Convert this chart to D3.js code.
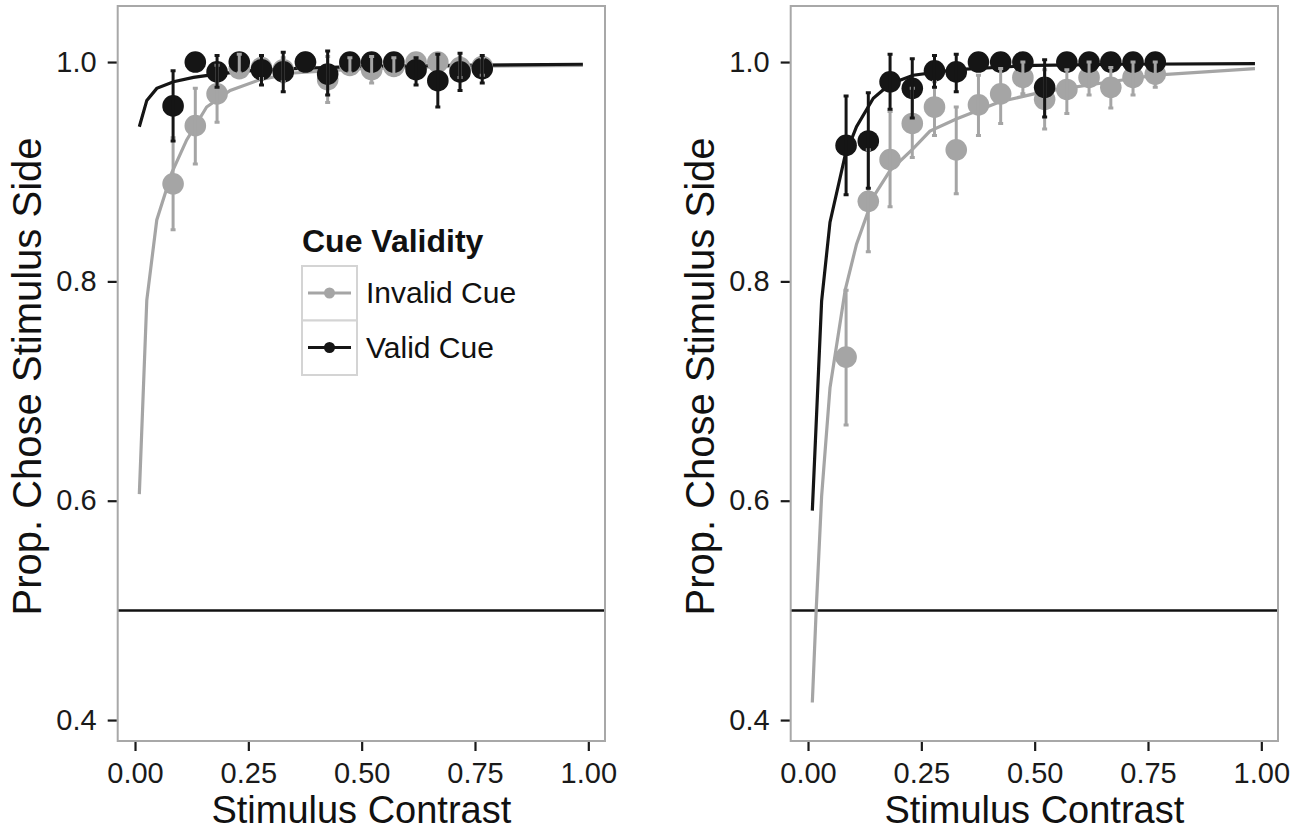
<!DOCTYPE html>
<html>
<head>
<meta charset="utf-8">
<script src="https://cdn.jsdelivr.net/npm/d3@7"></script>
<style>
  body { margin: 0; background: #fff; }
  text { font-family: "Liberation Sans", Arial, sans-serif; }
</style>
</head>
<body>
<div id="chart"></div>
<script>
// contrast levels where the points sit
const contrasts = [0.084, 0.133, 0.181, 0.230, 0.279, 0.327, 0.376, 0.425, 0.474, 0.522, 0.571, 0.620, 0.668, 0.717, 0.766];

// left panel
const leftInvalid   = [0.889, 0.942, 0.971, 0.994, 0.995, 0.993, 1.000, 0.984, 0.997, 0.993, 0.996, 1.000, 1.000, 0.995, 0.996];
const leftInvalidLo = [0.847, 0.907, 0.945, 0.990, 0.985, 0.982, 1.000, 0.963, 0.990, 0.981, 0.988, 1.000, 1.000, 0.986, 0.988];
const leftInvalidHi = [0.931, 0.976, 0.997, 1.007, 1.005, 1.004, 1.000, 1.005, 1.004, 1.005, 1.004, 1.000, 1.000, 1.004, 1.004];
const leftValid     = [0.960, 1.000, 0.991, 1.000, 0.993, 0.991, 1.000, 0.989, 1.000, 1.000, 1.000, 0.993, 0.983, 0.991, 0.994];
const leftValidLo   = [0.928, 1.000, 0.977, 1.000, 0.979, 0.973, 1.000, 0.970, 1.000, 1.000, 1.000, 0.979, 0.959, 0.974, 0.981];
const leftValidHi   = [0.992, 1.000, 1.006, 1.000, 1.006, 1.009, 1.000, 1.010, 1.000, 1.000, 1.000, 1.004, 1.007, 1.008, 1.006];

// right panel
const rightInvalid   = [0.731, 0.873, 0.911, 0.944, 0.959, 0.920, 0.961, 0.971, 0.986, 0.966, 0.975, 0.986, 0.977, 0.986, 0.989];
const rightInvalidLo = [0.669, 0.827, 0.868, 0.913, 0.933, 0.880, 0.933, 0.944, 0.971, 0.939, 0.953, 0.970, 0.958, 0.970, 0.977];
const rightInvalidHi = [0.792, 0.920, 0.955, 0.976, 0.982, 0.959, 0.988, 0.994, 1.000, 0.993, 0.993, 1.000, 0.995, 1.000, 1.000];
const rightValid     = [0.924, 0.928, 0.982, 0.976, 0.992, 0.991, 1.000, 1.000, 1.000, 0.977, 1.000, 1.000, 1.000, 1.000, 1.000];
const rightValidLo   = [0.879, 0.885, 0.957, 0.949, 0.977, 0.973, 1.000, 1.000, 1.000, 0.950, 1.000, 1.000, 1.000, 1.000, 1.000];
const rightValidHi   = [0.969, 0.972, 1.007, 1.003, 1.006, 1.007, 1.000, 1.000, 1.000, 1.002, 1.000, 1.000, 1.000, 1.000, 1.000];

// fitted curves
const leftValidCurveX   = [0.0095, 0.026, 0.048, 0.085, 0.129, 0.18, 0.25, 0.35, 0.5, 0.7, 0.988];
const leftValidCurveY   = [0.941, 0.965, 0.976, 0.982, 0.986, 0.989, 0.992, 0.994, 0.996, 0.997, 0.998];
const leftInvalidCurveX = [0.0095, 0.026, 0.048, 0.081, 0.114, 0.158, 0.21, 0.276, 0.35, 0.5, 0.7, 0.988];
const leftInvalidCurveY = [0.606, 0.783, 0.856, 0.899, 0.929, 0.959, 0.974, 0.984, 0.99, 0.994, 0.996, 0.997];
const rightValidCurveX   = [0.0095, 0.030, 0.0485, 0.082, 0.107, 0.144, 0.181, 0.232, 0.327, 0.5, 0.7, 0.986];
const rightValidCurveY   = [0.591, 0.782, 0.854, 0.915, 0.941, 0.967, 0.980, 0.988, 0.993, 0.997, 0.998, 0.9985];
const rightInvalidCurveX = [0.0095, 0.018, 0.030, 0.0485, 0.082, 0.107, 0.144, 0.181, 0.232, 0.269, 0.327, 0.425, 0.52, 0.668, 0.766, 0.986];
const rightInvalidCurveY = [0.416, 0.5, 0.604, 0.703, 0.792, 0.834, 0.877, 0.901, 0.921, 0.937, 0.948, 0.964, 0.973, 0.982, 0.988, 0.994];

const xTicks = [0, 0.25, 0.5, 0.75, 1];
const yTicks = [0.4, 0.6, 0.8, 1.0];
const chanceLevel = 0.5;
const groups = ["Invalid Cue", "Valid Cue"];
const colors = { "Invalid Cue": "#a5a5a5", "Valid Cue": "#151515" };

const width = 1295, height = 831;
const svg = d3.select("#chart").append("svg")
  .attr("width", width)
  .attr("height", height);

const panelTop = 6, panelBottom = 741;

function zip(xs, ys, lo, hi) {
  return xs.map((x, i) => ({ x: x, y: ys[i], lo: lo ? lo[i] : null, hi: hi ? hi[i] : null }));
}

function drawPanel(left, right, series, curves, withLegend) {
  const x = d3.scaleLinear().domain([-0.0382, 1.0368]).range([left, right]);
  const y = d3.scaleLinear().domain([0.3809, 1.0511]).range([panelBottom, panelTop]);
  const g = svg.append("g");

  g.append("rect")
    .attr("x", left).attr("y", panelTop)
    .attr("width", right - left).attr("height", panelBottom - panelTop)
    .attr("fill", "#fff");

  const clip = "clip" + Math.round(left);
  g.append("clipPath").attr("id", clip)
    .append("rect")
    .attr("x", left).attr("y", panelTop)
    .attr("width", right - left).attr("height", panelBottom - panelTop);

  const inner = g.append("g").attr("clip-path", "url(#" + clip + ")");

  // chance line
  inner.append("line")
    .attr("x1", left).attr("x2", right)
    .attr("y1", y(chanceLevel)).attr("y2", y(chanceLevel))
    .attr("stroke", "#111")
    .attr("stroke-width", 2.5);

  const line = d3.line().x(d => x(d.x)).y(d => y(d.y));

  groups.forEach(grp => {
    inner.append("path")
      .datum(curves[grp])
      .attr("d", line)
      .attr("fill", "none")
      .attr("stroke", colors[grp])
      .attr("stroke-width", 3.2);
  });

  groups.forEach(grp => {
    inner.append("g").selectAll("circle")
      .data(series[grp])
      .enter()
      .append("circle")
      .attr("cx", d => x(d.x))
      .attr("cy", d => y(d.y))
      .attr("r", 10.8)
      .attr("fill", colors[grp]);
  });

  groups.forEach(grp => {
    const bars = inner.append("g")
      .attr("stroke", colors[grp])
      .attr("stroke-width", 3);
    const data = series[grp].filter(d => d.hi - d.lo > 0.0005);
    bars.selectAll("line.v")
      .data(data)
      .enter()
      .append("line")
      .attr("x1", d => x(d.x)).attr("x2", d => x(d.x))
      .attr("y1", d => y(d.lo)).attr("y2", d => y(d.hi));
    ["lo", "hi"].forEach(k => {
      bars.selectAll("line." + k)
        .data(data)
        .enter()
        .append("line")
        .attr("x1", d => x(d.x) - 2.5).attr("x2", d => x(d.x) + 2.5)
        .attr("y1", d => y(d[k])).attr("y2", d => y(d[k]));
    });
  });

  // panel border
  g.append("rect")
    .attr("x", left).attr("y", panelTop)
    .attr("width", right - left).attr("height", panelBottom - panelTop)
    .attr("fill", "none")
    .attr("stroke", "#a8a8a8")
    .attr("stroke-width", 2);

  const xAxis = g.append("g")
    .attr("transform", `translate(0,${panelBottom + 1})`)
    .call(d3.axisBottom(x).tickValues(xTicks).tickFormat(d3.format(".2f")).tickSize(9).tickPadding(11));
  const yAxis = g.append("g")
    .attr("transform", `translate(${left - 1},0)`)
    .call(d3.axisLeft(y).tickValues(yTicks).tickFormat(d3.format(".1f")).tickSize(9).tickPadding(11));

  [xAxis, yAxis].forEach(a => {
    a.select(".domain").remove();
    a.selectAll(".tick line").attr("stroke", "#1a1a1a").attr("stroke-width", 2.2);
    a.selectAll(".tick text")
      .attr("fill", "#1a1a1a")
      .style("font-size", "29px")
      .style("font-family", "'Liberation Sans', Arial, sans-serif");
  });

  g.append("text")
    .attr("x", (left + right) / 2)
    .attr("y", 823)
    .attr("text-anchor", "middle")
    .style("font-size", "38px")
    .attr("fill", "#111")
    .text("Stimulus Contrast");

  g.append("text")
    .attr("transform", `translate(${left - 77},${(panelTop + panelBottom) / 2 + 3}) rotate(-90)`)
    .attr("text-anchor", "middle")
    .style("font-size", "40px")
    .attr("fill", "#111")
    .text("Prop. Chose Stimulus Side");

  if (withLegend) {
    const lg = g.append("g").attr("transform", "translate(302,252)");
    lg.append("text")
      .attr("x", 0).attr("y", 0)
      .style("font-size", "32px")
      .style("font-weight", "bold")
      .attr("fill", "#111")
      .text("Cue Validity");

    groups.forEach((grp, i) => {
      const ky = 14 + i * 54.5;
      const key = lg.append("g").attr("transform", `translate(0,${ky})`);
      key.append("rect")
        .attr("x", 0).attr("y", 0)
        .attr("width", 55).attr("height", 54.5)
        .attr("fill", "#fff")
        .attr("stroke", "#d4d4d4")
        .attr("stroke-width", 2);
      key.append("line")
        .attr("x1", 6).attr("x2", 49)
        .attr("y1", 27).attr("y2", 27)
        .attr("stroke", colors[grp])
        .attr("stroke-width", 3.2);
      key.append("circle")
        .attr("cx", 27.5).attr("cy", 27)
        .attr("r", 5.5)
        .attr("fill", colors[grp]);
      lg.append("text")
        .attr("x", 64)
        .attr("y", ky + 37)
        .style("font-size", "30px")
        .attr("fill", "#111")
        .text(grp);
    });
  }
}

drawPanel(117.7, 605,
  { "Invalid Cue": zip(contrasts, leftInvalid, leftInvalidLo, leftInvalidHi),
    "Valid Cue": zip(contrasts, leftValid, leftValidLo, leftValidHi) },
  { "Invalid Cue": zip(leftInvalidCurveX, leftInvalidCurveY),
    "Valid Cue": zip(leftValidCurveX, leftValidCurveY) },
  true);

drawPanel(790.7, 1278,
  { "Invalid Cue": zip(contrasts, rightInvalid, rightInvalidLo, rightInvalidHi),
    "Valid Cue": zip(contrasts, rightValid, rightValidLo, rightValidHi) },
  { "Invalid Cue": zip(rightInvalidCurveX, rightInvalidCurveY),
    "Valid Cue": zip(rightValidCurveX, rightValidCurveY) },
  false);
</script>
</body>
</html>
